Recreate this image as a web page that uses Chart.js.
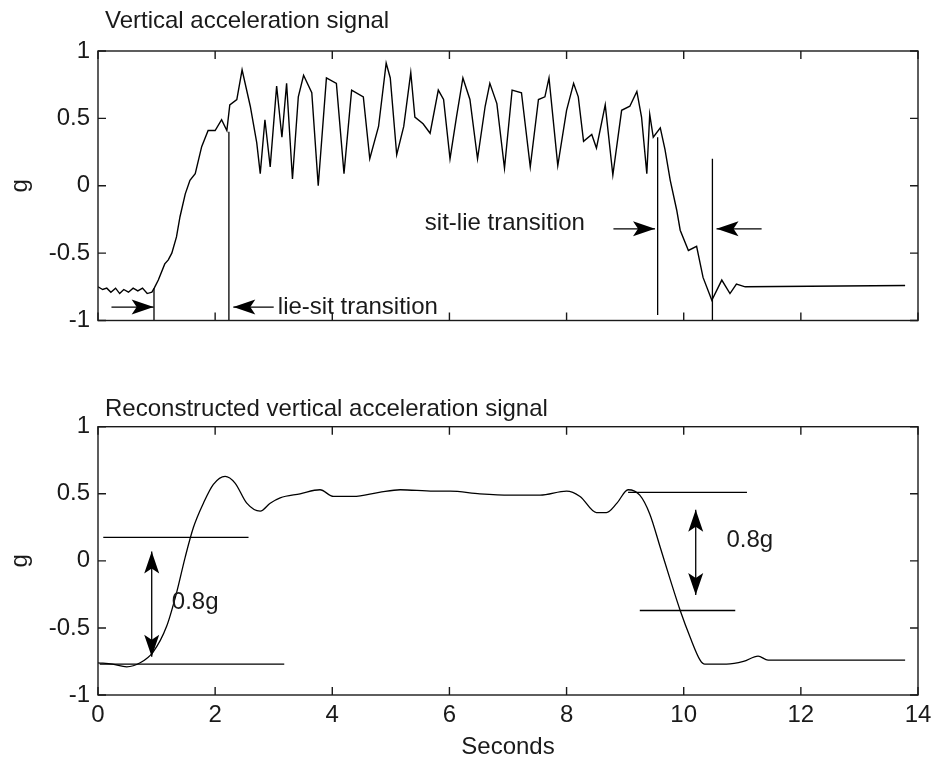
<!DOCTYPE html>
<html>
<head>
<meta charset="utf-8">
<script src="https://cdn.jsdelivr.net/npm/chart.js@4.4.1/dist/chart.umd.min.js"></script>
<style>
  html, body { margin: 0; padding: 0; background: #ffffff; }
  #wrap { position: relative; width: 932px; height: 763px; overflow: hidden; }
  canvas { position: absolute; left: 0; }
</style>
</head>
<body>
<div id="wrap">
  <canvas id="c1" width="932" height="380" style="top:0px;width:932px;height:380px"></canvas>
  <canvas id="c2" width="932" height="383" style="top:380px;width:932px;height:383px"></canvas>
</div>
<script>
// ---------- data ----------
const xTicks = [0, 2, 4, 6, 8, 10, 12, 14];
const yTicks = [-1, -0.5, 0, 0.5, 1];

const rawTime = [0.00,0.08,0.15,0.22,0.30,0.37,0.44,0.52,0.60,0.68,0.76,0.84,0.92,0.96,1.03,1.14,1.20,1.26,1.34,1.40,1.49,1.57,1.66,1.77,1.88,2.00,2.11,2.20,2.25,2.37,2.46,2.60,2.71,2.77,2.85,2.94,3.05,3.14,3.22,3.32,3.42,3.51,3.65,3.76,3.90,4.07,4.20,4.33,4.53,4.64,4.79,4.92,4.99,5.10,5.22,5.34,5.41,5.55,5.67,5.81,5.90,6.01,6.12,6.23,6.35,6.48,6.61,6.69,6.81,6.94,7.07,7.23,7.38,7.52,7.63,7.70,7.85,8.00,8.12,8.20,8.29,8.43,8.51,8.66,8.79,8.94,9.08,9.20,9.28,9.37,9.42,9.48,9.60,9.68,9.77,9.88,9.94,10.08,10.22,10.33,10.48,10.65,10.79,10.90,11.05,13.78];
const rawG = [-0.75,-0.77,-0.76,-0.79,-0.76,-0.80,-0.77,-0.79,-0.76,-0.78,-0.76,-0.80,-0.79,-0.76,-0.70,-0.58,-0.55,-0.50,-0.38,-0.23,-0.06,0.04,0.09,0.29,0.41,0.41,0.49,0.41,0.60,0.64,0.86,0.59,0.32,0.09,0.49,0.14,0.74,0.36,0.76,0.05,0.66,0.82,0.69,0.00,0.80,0.76,0.09,0.71,0.66,0.20,0.44,0.91,0.80,0.23,0.44,0.84,0.51,0.46,0.39,0.71,0.64,0.20,0.51,0.80,0.64,0.20,0.59,0.76,0.61,0.13,0.71,0.69,0.14,0.64,0.66,0.80,0.15,0.56,0.76,0.66,0.33,0.38,0.28,0.60,0.08,0.56,0.59,0.70,0.51,0.09,0.53,0.36,0.43,0.27,0.04,-0.18,-0.33,-0.48,-0.45,-0.68,-0.85,-0.70,-0.80,-0.73,-0.75,-0.74];

const recTime = [0.00,0.25,0.49,0.72,0.94,1.17,1.34,1.49,1.63,1.80,1.97,2.17,2.34,2.54,2.77,2.94,3.11,3.45,3.79,4.02,4.36,4.80,5.16,5.73,6.01,6.52,7.03,7.55,8.00,8.23,8.51,8.68,8.86,9.05,9.25,9.42,9.60,9.77,9.94,10.11,10.28,10.36,10.73,11.02,11.27,11.44,13.78];
const recG = [-0.76,-0.77,-0.79,-0.76,-0.68,-0.49,-0.24,0.03,0.25,0.43,0.57,0.63,0.58,0.43,0.37,0.43,0.47,0.50,0.53,0.48,0.48,0.51,0.53,0.52,0.52,0.50,0.49,0.49,0.52,0.48,0.36,0.36,0.43,0.53,0.49,0.35,0.10,-0.14,-0.37,-0.57,-0.74,-0.77,-0.77,-0.75,-0.71,-0.74,-0.74];

// transition marker lines (top panel, vertical)
const topMarkX    = [0.956, 2.235, 9.555, 10.49];
const topMarkFrom = [-0.76, 0.40, 0.36, 0.20];
const topMarkTo   = [-1.00, -1.00, -0.96, -1.00];
// reference levels (bottom panel, horizontal)
const botRefY    = [0.175, -0.77, 0.51, -0.37];
const botRefFrom = [0.09, 0.03, 9.05, 9.25];
const botRefTo   = [2.57, 3.18, 11.08, 10.88];
// arrows (top panel: horizontal, head at second x)
const topArrowX1 = [0.23, 3.00, 8.80, 11.33];
const topArrowX2 = [0.95, 2.31, 9.51, 10.56];
const topArrowY  = [-0.90, -0.90, -0.32, -0.32];
// double arrows (bottom panel: vertical)
const botArrowX      = [0.917, 10.205];
const botArrowTop    = [0.07, 0.38];
const botArrowBottom = [-0.715, -0.255];
// notes
const topNotes = ['lie-sit transition', 'sit-lie transition'];
const topNoteX = [3.07, 5.58];
const topNoteY = [-0.90, -0.28];
const botNotes = ['0.8g', '0.8g'];
const botNoteX = [1.26, 10.73];
const botNoteY = [-0.31, 0.155];

// ---------- helpers ----------
const FAM = "'Liberation Sans', Arial, Helvetica, sans-serif";
const INK = '#1a1a1a';
Chart.defaults.font.family = FAM;
Chart.defaults.color = INK;

function pts(xs, ys) { return xs.map((x, i) => ({ x: x, y: ys[i] })); }
function segsV(xs, y1, y2) {
  const out = [];
  xs.forEach((x, i) => { out.push({ x: x, y: y1[i] }, { x: x, y: y2[i] }, { x: x, y: null }); });
  return out;
}
function segsH(ys, x1, x2) {
  const out = [];
  ys.forEach((y, i) => { out.push({ x: x1[i], y: y }, { x: x2[i], y: y }, { x: x2[i], y: null }); });
  return out;
}

function head(ctx, tx, ty, dx, dy) {
  const L = 22, W = 7.5, N = 5;
  const nx = -dy, ny = dx;
  ctx.beginPath();
  ctx.moveTo(tx, ty);
  ctx.lineTo(tx - dx * L + nx * W, ty - dy * L + ny * W);
  ctx.lineTo(tx - dx * (L - N), ty - dy * (L - N));
  ctx.lineTo(tx - dx * L - nx * W, ty - dy * L - ny * W);
  ctx.closePath();
  ctx.fill();
}

const framePlugin = {
  id: 'frameAnnot',
  afterDatasetsDraw(chart, args, o) {
    const ctx = chart.ctx, a = chart.chartArea;
    const xs = chart.scales.x, ys = chart.scales.y;
    ctx.save();
    ctx.strokeStyle = INK;
    ctx.lineWidth = 1.4;
    ctx.strokeRect(a.left, a.top, a.right - a.left, a.bottom - a.top);
    ctx.beginPath();
    xTicks.forEach(v => {
      const p = xs.getPixelForValue(v);
      ctx.moveTo(p, a.bottom); ctx.lineTo(p, a.bottom - 8);
      ctx.moveTo(p, a.top); ctx.lineTo(p, a.top + 8);
    });
    yTicks.forEach(v => {
      const p = ys.getPixelForValue(v);
      ctx.moveTo(a.left, p); ctx.lineTo(a.left + 8, p);
      ctx.moveTo(a.right, p); ctx.lineTo(a.right - 8, p);
    });
    ctx.stroke();

    // arrows
    ctx.fillStyle = '#000';
    ctx.strokeStyle = '#000';
    ctx.lineWidth = 1.3;
    (o.arrows || []).forEach(ar => {
      const x1 = xs.getPixelForValue(ar.x1), y1 = ys.getPixelForValue(ar.y1);
      const x2 = xs.getPixelForValue(ar.x2), y2 = ys.getPixelForValue(ar.y2);
      ctx.beginPath(); ctx.moveTo(x1, y1); ctx.lineTo(x2, y2); ctx.stroke();
      const len = Math.hypot(x2 - x1, y2 - y1), dx = (x2 - x1) / len, dy = (y2 - y1) / len;
      head(ctx, x2, y2, dx, dy);
      if (ar.both) head(ctx, x1, y1, -dx, -dy);
    });

    // notes
    ctx.fillStyle = INK;
    ctx.font = '24px ' + FAM;
    ctx.textAlign = 'left';
    ctx.textBaseline = 'middle';
    (o.notes || []).forEach(n => {
      ctx.fillText(n.text, xs.getPixelForValue(n.x), ys.getPixelForValue(n.y));
    });

    // panel title
    ctx.textBaseline = 'alphabetic';
    ctx.fillText(o.title, a.left + 7, a.top - o.titleGap);
    ctx.restore();
  }
};

function makeChart(id, cfg) {
  return new Chart(document.getElementById(id), {
    type: 'scatter',
    data: { datasets: cfg.datasets },
    options: {
      responsive: false,
      animation: false,
      devicePixelRatio: 1,
      layout: { padding: cfg.padding },
      plugins: {
        legend: { display: false },
        tooltip: { enabled: false },
        frameAnnot: cfg.annot
      },
      scales: {
        x: {
          type: 'linear', min: 0, max: 14,
          afterBuildTicks: s => { s.ticks = xTicks.map(v => ({ value: v })); },
          afterFit: s => { s.height = cfg.xHeight; s.paddingLeft = 0; s.paddingRight = 0; },
          grid: { display: false, drawTicks: false },
          border: { display: false },
          ticks: { display: cfg.xLabels, padding: 6, font: { size: 24 }, color: INK, maxRotation: 0,
                   callback: v => String(v) },
          title: { display: cfg.xLabels, text: 'Seconds', font: { size: 24 }, color: INK,
                   padding: { top: 0, bottom: 1 } }
        },
        y: {
          type: 'linear', min: -1, max: 1,
          afterBuildTicks: s => { s.ticks = yTicks.map(v => ({ value: v })); },
          afterFit: s => { s.width = 98; s.paddingTop = 0; s.paddingBottom = 0; },
          grid: { display: false, drawTicks: false },
          border: { display: false },
          ticks: { padding: 8, font: { size: 24 }, color: INK, callback: v => String(v) },
          title: { display: true, text: 'g', font: { size: 24 }, color: INK, padding: { top: 6, bottom: 0 } }
        }
      }
    },
    plugins: [framePlugin]
  });
}

const lineStyle = { showLine: true, pointRadius: 0, borderColor: '#000', backgroundColor: '#000', fill: false, spanGaps: false };

makeChart('c1', {
  padding: { top: 51, right: 14, bottom: 59.5, left: 0 },
  xHeight: 0,
  xLabels: false,
  datasets: [
    Object.assign({ label: 'Vertical acceleration', data: pts(rawTime, rawG), borderWidth: 1.4, tension: 0 }, lineStyle),
    Object.assign({ label: 'Transition markers', data: segsV(topMarkX, topMarkFrom, topMarkTo), borderWidth: 1.3, tension: 0 }, lineStyle)
  ],
  annot: {
    title: 'Vertical acceleration signal',
    titleGap: 23,
    arrows: topArrowX1.map((x, i) => ({ x1: x, y1: topArrowY[i], x2: topArrowX2[i], y2: topArrowY[i], both: false })),
    notes: topNotes.map((t, i) => ({ text: t, x: topNoteX[i], y: topNoteY[i] }))
  }
});

makeChart('c2', {
  padding: { top: 46.7, right: 14, bottom: 0, left: 0 },
  xHeight: 68,
  xLabels: true,
  datasets: [
    Object.assign({ label: 'Reconstructed', data: pts(recTime, recG), borderWidth: 1.3, tension: 0.35, cubicInterpolationMode: 'monotone' }, lineStyle),
    Object.assign({ label: 'Reference levels', data: segsH(botRefY, botRefFrom, botRefTo), borderWidth: 1.3, tension: 0 }, lineStyle)
  ],
  annot: {
    title: 'Reconstructed vertical acceleration signal',
    titleGap: 11,
    arrows: botArrowX.map((x, i) => ({ x1: x, y1: botArrowTop[i], x2: x, y2: botArrowBottom[i], both: true })),
    notes: botNotes.map((t, i) => ({ text: t, x: botNoteX[i], y: botNoteY[i] }))
  }
});
</script>
</body>
</html>
